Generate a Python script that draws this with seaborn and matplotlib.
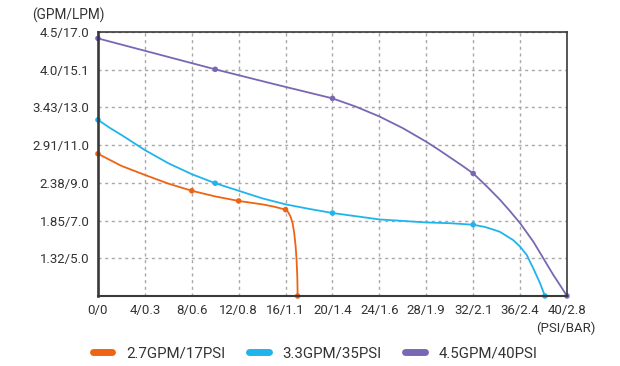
import pandas as pd
import matplotlib
matplotlib.use("Agg")
import matplotlib.pyplot as plt
from matplotlib.lines import Line2D
import seaborn as sns

# curve values (x = PSI step, y = grid step, 1 step per tick)
orange_x = [0, 2, 4, 6, 8, 10, 12, 14, 15, 16, 16.23, 16.43, 16.6, 16.74, 16.86, 16.94, 17.0, 17.03]
orange_y = [3.77, 3.45, 3.21, 2.98, 2.79, 2.64, 2.52, 2.43, 2.37, 2.29, 2.22, 2.10, 1.93, 1.66, 1.31, 0.95, 0.51, 0.0]
orange_mx = [0, 8, 12, 16, 17.03]
orange_my = [3.77, 2.79, 2.52, 2.29, 0.0]

cyan_x = [0, 1, 2, 4, 6, 8, 10, 12, 14, 16, 18, 20, 24, 28, 30, 32, 33, 33.72, 34.29, 34.85,
          35.42, 36, 36.56, 37.13, 37.7, 38.12]
cyan_y = [4.67, 4.46, 4.27, 3.87, 3.52, 3.23, 2.99, 2.79, 2.59, 2.43, 2.31, 2.20, 2.03, 1.95,
          1.93, 1.89, 1.83, 1.76, 1.70, 1.59, 1.48, 1.31, 1.09, 0.73, 0.34, 0.0]
cyan_mx = [0, 10, 20, 32, 38.12]
cyan_my = [4.67, 2.99, 2.20, 1.89, 0.0]

purple_x = [0, 5, 10, 15, 20, 22, 24, 26, 28, 29, 30, 31, 32, 33.15, 34.29, 35.14, 36, 37.13,
            37.98, 38.83, 39.4, 40]
purple_y = [6.83, 6.42, 6.01, 5.62, 5.24, 5.02, 4.76, 4.45, 4.09, 3.89, 3.68, 3.47, 3.25, 2.91,
            2.55, 2.25, 1.93, 1.44, 1.00, 0.56, 0.29, 0.0]
purple_mx = [0, 10, 20, 32, 40]
purple_my = [6.83, 6.01, 5.24, 3.25, 0.0]

series_names = ["2.7GPM/17PSI", "3.3GPM/35PSI", "4.5GPM/40PSI"]
colors = ["#EE6412", "#20B4EC", "#7A67B4"]

x_ticks = [0, 4, 8, 12, 16, 20, 24, 28, 32, 36, 40]
x_labels = ["0/0", "4/0.3", "8/0.6", "12/0.8", "16/1.1", "20/1.4", "24/1.6",
            "28/1.9", "32/2.1", "36/2.4", "40/2.8"]
y_ticks = [1, 2, 3, 4, 5, 6, 7]
y_labels = ["1.32/5.0", "1.85/7.0", "2.38/9.0", "2.91/11.0", "3.43/13.0", "4.0/15.1", "4.5/17.0"]

sns.set_style("white")
plt.rcParams["font.family"] = ["Roboto", "DejaVu Sans"]

fig = plt.figure(figsize=(6.2, 3.66), dpi=100)
ax = fig.add_axes([0.158, 0.1913, 0.7565, 0.7213])

curves = [(orange_x, orange_y, orange_mx, orange_my),
          (cyan_x, cyan_y, cyan_mx, cyan_my),
          (purple_x, purple_y, purple_mx, purple_my)]

for (cx, cy, mx, my), col in zip(curves, colors):
    df = pd.DataFrame({"x": cx, "y": cy})
    sns.lineplot(data=df, x="x", y="y", ax=ax, color=col, linewidth=1.3,
                 estimator=None, sort=False, clip_on=False, zorder=3)
    pts = pd.DataFrame({"x": mx, "y": my})
    sns.scatterplot(data=pts, x="x", y="y", ax=ax, color=col, s=16,
                    edgecolor="none", clip_on=False, zorder=4, legend=False)

ax.set_xlim(0, 40)
ax.set_ylim(0, 7)
ax.set_xticks(x_ticks)
ax.set_xticklabels(x_labels)
ax.set_yticks(y_ticks)
ax.set_yticklabels(y_labels)
ax.tick_params(axis="both", length=0, labelsize=9.5, colors="#333333", pad=6)
ax.set_xlabel("")
ax.set_ylabel("")

# dashed grid
for gl in ax.get_xgridlines() + ax.get_ygridlines():
    gl.set_visible(True)
    gl.set_linestyle((0, (2.2, 2.6)))
    gl.set_color("#a8a8a8")
    gl.set_linewidth(1.0)
    gl.set_zorder(1)

for side, lw in [("left", 1.9), ("bottom", 1.5), ("top", 1.2), ("right", 1.2)]:
    ax.spines[side].set_visible(True)
    ax.spines[side].set_color("#3a3a3a")
    ax.spines[side].set_linewidth(lw)
    ax.spines[side].set_zorder(5)

fig.text(0.052, 0.958, "(GPM/LPM)", fontsize=9.8, color="#333333", va="center", ha="left")
fig.text(0.912, 0.104, "(PSI/BAR)", fontsize=9.5, color="#333333", va="center", ha="center")

handles = [Line2D([], [], color=c, linewidth=5, solid_capstyle="round") for c in colors]
fig.legend(handles, series_names, loc="center", bbox_to_anchor=(0.508, 0.035), ncol=3,
           frameon=False, fontsize=10.8, handlelength=1.3, handletextpad=0.9,
           columnspacing=1.6, labelcolor="#333333")

fig.savefig("out.png", dpi=100)
